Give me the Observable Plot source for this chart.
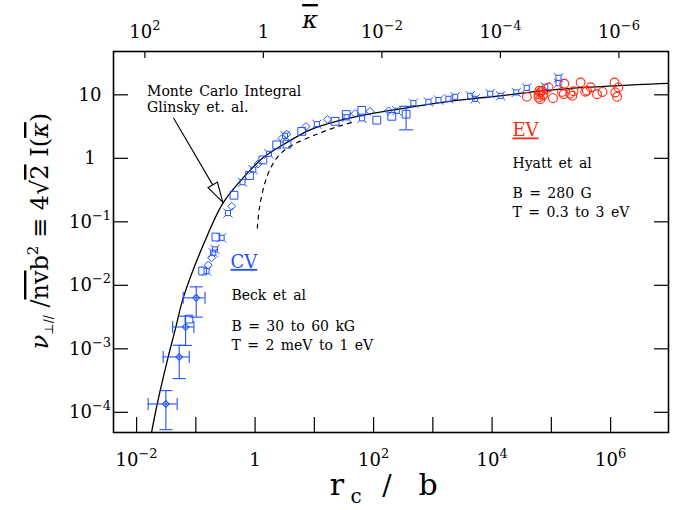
<!DOCTYPE html>
<html><head><meta charset="utf-8">
<script src="https://cdn.jsdelivr.net/npm/d3@7"></script>
<script src="https://cdn.jsdelivr.net/npm/@observablehq/plot@0.6"></script>
<style>body{margin:0;background:#fff;} svg{font-family:"DejaVu Serif",serif;}</style>
</head><body><div id="chart"></div>
<script>
const BLUE = "#1f4fff", RED = "#ff2a10";

// ---- scale extents ----
const xDomain = [0.004, 9.3e6];
const yDomain = [4.9e-5, 49];

// ---- axis ticks ----
const xTickValues = [1e-2, 1e-1, 1, 1e1, 1e2, 1e3, 1e4, 1e5, 1e6];
const xLabelValues = [1e-2, 1, 1e2, 1e4, 1e6];
const xLabelText = ["10^−2", "1", "10^2", "10^4", "10^6"];
const yTickValues = [1e-4, 1e-3, 1e-2, 1e-1, 1, 10];
const yLabelText = ["10^−4", "10^−3", "10^−2", "10^−1", "1", "10"];
const kappaTicks = [1e2, 1, 1e-2, 1e-4, 1e-6];
const kappaLabelText = ["10^2", "1", "10^−2", "10^−4", "10^−6"];
const rcbAtKappaOne = 1.38;   // r_c/b where kappa-bar = 1 (top axis)

// ---- Monte Carlo integral (solid) ----
const mcX = [0.0168, 0.02188, 0.0335, 0.0452, 0.0601, 0.1396, 0.2846, 0.620, 1.349, 3.35, 8.30, 26.6, 85.5, 275, 993, 3581, 13430, 83560, 1.089e6, 9.8e6];
const mcY = [3.96e-5, 1.377e-4, 7.59e-4, 2.25e-3, 6.47e-3, 0.0507, 0.2037, 0.505, 1.045, 1.80, 2.86, 4.03, 5.11, 6.12, 7.43, 8.65, 9.82, 12.0, 14.1, 15.5];

// ---- dashed curve ----
const dashX = [1.069, 1.164, 1.413, 1.871, 2.583, 3.81, 10.8, 26.6, 42.5];
const dashY = [0.0813, 0.170, 0.397, 0.773, 1.183, 1.57, 2.44, 3.31, 3.75];

// ---- CV (Beck et al) : squares ----
const sqX = [0.128, 0.214, 0.432, 0.789, 1.33, 2.27, 3.39, 6.01, 21.9, 34.0, 62.0, 111, 199, 347, 0.075];
const sqY = [0.0171, 0.0586, 0.267, 0.547, 0.961, 1.66, 1.70, 2.70, 3.89, 4.98, 5.80, 4.06, 4.67, 5.05, 0.00299];
// ---- CV : diamonds ----
const diX = [0.159, 0.181, 0.395, 1.10, 2.79, 3.35, 7.10, 16.4, 47.8, 85.5, 175];
const diY = [0.0212, 0.0277, 0.179, 0.831, 2.10, 2.44, 3.24, 4.18, 5.16, 5.60, 5.70];
// ---- CV : bowtie squares ----
const bwX = [0.149, 0.193, 0.206, 0.267, 0.342, 0.601, 0.914, 1.68, 3.14, 10.8, 34.3, 62.7, 242, 461, 826, 1219, 1799, 2335, 4188, 5082, 9100, 13700, 25060, 37670, 77440, 129700, 129700];
const bwY = [0.0171, 0.0332, 0.0375, 0.0571, 0.140, 0.429, 0.673, 1.20, 2.30, 3.51, 4.50, 4.34, 5.70, 7.54, 7.89, 8.43, 8.81, 9.47, 9.82, 8.81, 10.6, 9.82, 11.1, 13.1, 13.6, 18.9, 15.5];
// ---- CV : points with error bars (diamond) ----
const ebX = [0.0995, 0.0659, 0.0514, 0.0306];
const ebY = [0.00647, 0.00225, 0.000759, 0.000138];
const ebXlo = [0.0601, 0.0398, 0.0276, 0.0154];
const ebXhi = [0.140, 0.0910, 0.0759, 0.0475];
const ebYlo = [0.00321, 0.00115, 0.000346, 0.0000543];
const ebYhi = [0.00964, 0.00333, 0.00116, 0.000224];
// square with a vertical error bar only
const sqErrX = [347];
const sqErrYlo = [2.86];
const sqErrYhi = [6.71];

// ---- EV (Hyatt et al) : circles ----
const evX = [37930, 59570, 63680, 68070, 59570, 63680, 72440, 87900, 104400, 148300, 161900, 157700, 204600, 232800, 221300, 305500, 366400, 391700, 453900, 577800, 716100, 1140000, 1324000, 1178000, 1259000, 70000, 61500];
const evY = [9.47, 10.4, 11.1, 11.8, 9.23, 8.71, 10.4, 13.3, 9.03, 11.3, 15.2, 10.4, 10.6, 11.6, 9.82, 15.9, 11.4, 11.8, 13.4, 10.4, 11.3, 15.9, 13.3, 11.1, 9.47, 9.82, 11.8];

// ---- annotations (data coordinates of left baseline) ----
const notes = [
  {t: "Monte Carlo Integral", x: 0.01503, y: 9.47, c: "black"},
  {t: "Glinsky et. al.", x: 0.01503, y: 5.35, c: "black"},
  {t: "CV", x: 0.384, y: 0.0188, c: BLUE, big: true},
  {t: "Beck et al", x: 0.399, y: 0.00589, c: "black"},
  {t: "B = 30 to 60 kG", x: 0.399, y: 0.00193, c: "black"},
  {t: "T = 2 meV to 1 eV", x: 0.399, y: 0.000968, c: "black"},
  {t: "EV", x: 22030, y: 2.21, c: RED, big: true},
  {t: "Hyatt et al", x: 22030, y: 0.711, c: "black"},
  {t: "B = 280 G", x: 22030, y: 0.236, c: "black"},
  {t: "T = 0.3 to 3 eV", x: 22030, y: 0.118, c: "black"}
];
const arrowFrom = [0.0418, 4.37];
const arrowTo = [0.285, 0.204];

// ---- build tables ----
const zip = (xs, ys) => xs.map((x, i) => ({x, y: ys[i]}));
const mc = zip(mcX, mcY), dash = zip(dashX, dashY);
const sq = zip(sqX, sqY), di = zip(diX, diY), bw = zip(bwX, bwY), ev = zip(evX, evY);
const eb = ebX.map((x, i) => ({x, y: ebY[i], xlo: ebXlo[i], xhi: ebXhi[i], ylo: ebYlo[i], yhi: ebYhi[i]}));
const sqErr = sqErrX.map((x, i) => ({x, ylo: sqErrYlo[i], yhi: sqErrYhi[i]}));

// ---- custom symbols ----
const rad = s => Math.sqrt(s / Math.PI);
const bowtie = {draw(ctx, size) {
  const r = rad(size), s = r * 0.55;
  ctx.moveTo(-s, -s); ctx.lineTo(s, -s); ctx.lineTo(s, s); ctx.lineTo(-s, s); ctx.closePath();
  for (const [a, b] of [[-1,-1],[1,-1],[1,1],[-1,1]]) { ctx.moveTo(a*s, b*s); ctx.lineTo(a*r, b*r); }
}};
const capH = {draw(ctx, size) { const r = rad(size); ctx.moveTo(-r, 0); ctx.lineTo(r, 0); }};
const capV = {draw(ctx, size) { const r = rad(size); ctx.moveTo(0, -r); ctx.lineTo(0, r); }};

const W = 686, H = 510, mT = 51, mR = 18, mB = 78, mL = 113;

const chart = Plot.plot({
  width: W, height: H, marginTop: mT, marginRight: mR, marginBottom: mB, marginLeft: mL,
  x: {type: "log", domain: xDomain, axis: null},
  y: {type: "log", domain: yDomain, axis: null},
  style: {background: "white", overflow: "visible"},
  marks: [
    Plot.line(mc, {x: "x", y: "y", stroke: "black", strokeWidth: 1.3, curve: "catmull-rom", clip: true}),
    Plot.line(dash, {x: "x", y: "y", stroke: "black", strokeWidth: 1.2, strokeDasharray: "4,5", curve: "catmull-rom"}),
    // error bars
    Plot.ruleX(eb, {x: "x", y1: "ylo", y2: "yhi", stroke: BLUE, strokeWidth: 1.1}),
    Plot.ruleY(eb, {y: "y", x1: "xlo", x2: "xhi", stroke: BLUE, strokeWidth: 1.1}),
    Plot.dot(eb, {x: "x", y: "ylo", symbol: capH, r: 6.5, stroke: BLUE, fill: "none", strokeWidth: 1.1}),
    Plot.dot(eb, {x: "x", y: "yhi", symbol: capH, r: 6.5, stroke: BLUE, fill: "none", strokeWidth: 1.1}),
    Plot.dot(eb, {x: "xlo", y: "y", symbol: capV, r: 6, stroke: BLUE, fill: "none", strokeWidth: 1.1}),
    Plot.dot(eb, {x: "xhi", y: "y", symbol: capV, r: 6, stroke: BLUE, fill: "none", strokeWidth: 1.1}),
    Plot.dot(eb, {x: "x", y: "y", symbol: "diamond2", r: 3, stroke: BLUE, fill: "none", strokeWidth: 1.1}),
    Plot.ruleX(sqErr, {x: "x", y1: "ylo", y2: "yhi", stroke: BLUE, strokeWidth: 1.1}),
    Plot.dot(sqErr, {x: "x", y: "ylo", symbol: capH, r: 7, stroke: BLUE, fill: "none", strokeWidth: 1.1}),
    Plot.dot(sqErr, {x: "x", y: "yhi", symbol: capH, r: 7, stroke: BLUE, fill: "none", strokeWidth: 1.1}),
    // CV points
    Plot.dot(sq, {x: "x", y: "y", symbol: "square", r: 4.4, stroke: BLUE, fill: "none", strokeWidth: 1}),
    Plot.dot(di, {x: "x", y: "y", symbol: "diamond2", r: 3.6, stroke: BLUE, fill: "none", strokeWidth: 1}),
    Plot.dot(bw, {x: "x", y: "y", symbol: bowtie, r: 4.6, stroke: BLUE, fill: "none", strokeWidth: 1}),
    // EV points
    Plot.dot(ev, {x: "x", y: "y", symbol: "circle", r: 4.4, stroke: RED, fill: "none", strokeWidth: 1.1}),
    Plot.frame({stroke: "black", strokeWidth: 1.6})
  ]
});

document.getElementById("chart").appendChild(chart);
const sx = chart.scale("x"), sy = chart.scale("y");
const X = v => sx.apply(v), Y = v => sy.apply(v);
const svg = d3.select(chart);
const g = svg.append("g");
const y0 = H - mB, y1 = mT, x0 = mL, x1 = W - mR;

// ticks
const tk = g.append("g").attr("stroke", "black").attr("stroke-width", 1.2);
for (const v of xTickValues) tk.append("line").attr("x1", X(v)).attr("x2", X(v)).attr("y1", y0).attr("y2", y0 - 15);
for (const k of kappaTicks) { const v = rcbAtKappaOne / k; tk.append("line").attr("x1", X(v)).attr("x2", X(v)).attr("y1", y1).attr("y2", y1 + 7); }
for (const v of yTickValues) {
  tk.append("line").attr("x1", x0).attr("x2", x0 + 15).attr("y1", Y(v)).attr("y2", Y(v));
  tk.append("line").attr("x1", x1).attr("x2", x1 - 14).attr("y1", Y(v)).attr("y2", Y(v));
}

function powLabel(sel, x, y, str, size) {
  const [b, e] = str.split("^");
  const t = sel.append("text").attr("x", x).attr("y", y).attr("text-anchor", "middle")
    .attr("font-size", size).attr("fill", "black");
  t.append("tspan").text(b);
  if (e) t.append("tspan").attr("dy", -size * 0.45).attr("font-size", size * 0.72).text(e);
  return t;
}
xLabelValues.forEach((v, i) => powLabel(g, X(v), 466, xLabelText[i], 18));
kappaLabelText.forEach((s, i) => powLabel(g, X(rcbAtKappaOne / kappaTicks[i]), 38, s, 18));
yTickValues.forEach((v, i) => powLabel(g, 90, Y(v) + 6, yLabelText[i], 18));

// axis titles
const titleParts = [["r", 337, 495, 30], ["c", 356, 503, 20], ["/", 387, 495, 28], ["b", 428, 495, 30]];
for (const [s, x, y, f] of titleParts)
  g.append("text").attr("x", x).attr("y", y).attr("text-anchor", "middle").attr("font-size", f).text(s);

g.append("text").attr("x", 310).attr("y", 28).attr("text-anchor", "middle").attr("font-size", 24)
  .attr("font-style", "italic").style("text-decoration", "overline").text("κ");

const yt = g.append("text").attr("transform", "translate(48,231) rotate(-90)").attr("text-anchor", "middle")
  .attr("font-size", 24).style("white-space", "pre");
yt.append("tspan").attr("font-style", "italic").text("ν");
yt.append("tspan").attr("font-size", 12).attr("dy", 5).text("⊥//");
yt.append("tspan").attr("dy", -5).text(" /");
yt.append("tspan").style("text-decoration", "overline").text("nv");
yt.append("tspan").text("b");
yt.append("tspan").attr("font-size", 15).attr("dy", -10).text("2");
yt.append("tspan").attr("dy", 10).text(" ≡ 4√");
yt.append("tspan").style("text-decoration", "overline").text("2");
yt.append("tspan").text(" I(");
yt.append("tspan").attr("font-style", "italic").style("text-decoration", "overline").text("κ");
yt.append("tspan").text(")");

// annotations
for (const n of notes) {
  const t = g.append("text").attr("x", X(n.x)).attr("y", Y(n.y)).attr("fill", n.c).attr("text-anchor", "start")
    .attr("font-size", n.big ? 18 : 14).style("white-space", "pre").style("word-spacing", n.big ? "0" : "2px")
    .text(n.t);
  if (n.big) t.style("text-decoration", "underline");
}

// arrow with hollow head
{
  const p0 = [X(arrowFrom[0]), Y(arrowFrom[1])], p1 = [X(arrowTo[0]), Y(arrowTo[1])];
  const dx = p1[0] - p0[0], dy = p1[1] - p0[1], L = Math.hypot(dx, dy);
  const u = [dx / L, dy / L], n = [-u[1], u[0]], hl = 20, hw = 5.5;
  const b = [p1[0] - u[0] * hl, p1[1] - u[1] * hl];
  g.append("line").attr("x1", p0[0]).attr("y1", p0[1]).attr("x2", b[0]).attr("y2", b[1])
    .attr("stroke", "black").attr("stroke-width", 1.1);
  g.append("path").attr("d", `M${p1}L${b[0] + n[0] * hw},${b[1] + n[1] * hw}L${b[0] - n[0] * hw},${b[1] - n[1] * hw}Z`)
    .attr("fill", "white").attr("stroke", "black").attr("stroke-width", 1.1);
}
</script></body></html>
